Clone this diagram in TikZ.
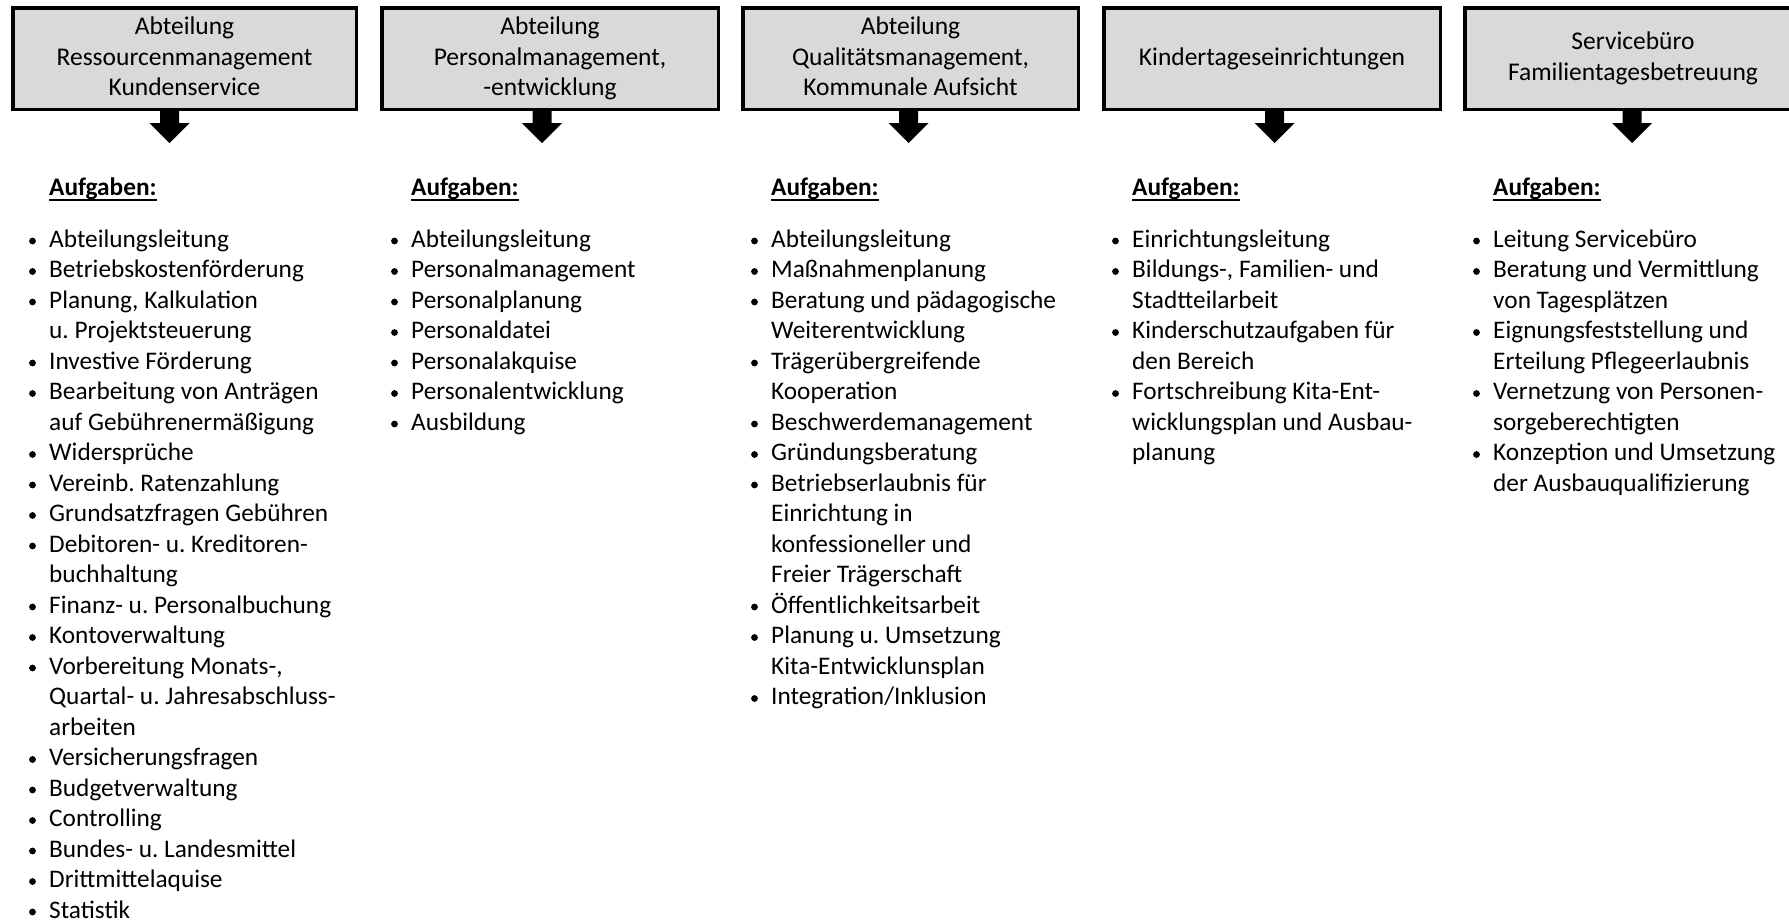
\documentclass[tikz,border=0pt]{standalone}
\usepackage{fontspec}
\setmainfont{Carlito}
\frenchspacing
\definecolor{boxgray}{HTML}{D9D9D9}
\newcommand\itm[4]{%
  \node[itm] (#1) at (#2,{247+30.5*#3}) {\begin{tabular}[t]{@{}l@{}}#4\end{tabular}};
  \fill ([xshift=-16.5pt,yshift=6pt]#1.base west) circle (3.4pt);}
\newcommand\blockarrow[2]{%
  \coordinate (#1) at (#2);
  \fill (#1) ++(-9.5,0) -- ++(19,0) -- ++(0,14) -- ++(10.5,0) -- ++(-20,20) -- ++(-20,-20) -- ++(10.5,0) -- cycle;}
\newcommand\aufg[2]{%
  \node[aufgstyle] (#1) at (#2,195) {Aufgaben:};
  \draw[line width=2pt] ([yshift=-5pt]#1.base west) -- ([yshift=-5pt]#1.base east);}
\begin{document}
\begin{tikzpicture}[x=1pt,y=-1pt,
  hdr/.style={draw=black, line width=3.5pt, fill=boxgray, minimum height=101.5pt,
    inner sep=0pt, align=center, font=\fontsize{25.5}{30.5}\selectfont},
  itm/.style={anchor=base west, inner sep=0pt, font=\fontsize{25.3}{30.5}\selectfont},
  aufgstyle/.style={anchor=base west, inner sep=0pt, font=\bfseries\fontsize{25.3}{30.5}\selectfont}]
\clip (0,0) rectangle (1789,922);
\fill[white] (0,0) rectangle (1789,922);

% header boxes
\node[hdr, minimum width=343.5pt] (b1) at (184.5,58.5) {Abteilung\\Ressourcenmanagement\\Kundenservice\vphantom{g}};
\node[hdr, minimum width=336.5pt] (b2) at (550,58.5) {Abteilung\\Personalmanagement,\\-entwicklung};
\node[hdr, minimum width=335.5pt] (b3) at (910.5,58.5) {Abteilung\\Qualitätsmanagement,\\Kommunale Aufsicht\vphantom{g}};
\node[hdr, minimum width=336.5pt] (b4) at (1272,58.5) {Kindertageseinrichtungen};
\node[hdr, minimum width=336.5pt] (b5) at (1633,58.5) {Servicebüro\\Familientagesbetreuung};

% block arrows
\blockarrow{a1}{169.5,109}
\blockarrow{a2}{542,109}
\blockarrow{a3}{908.5,109}
\blockarrow{a4}{1274.5,109}
\blockarrow{a5}{1632,109}

% headings
\aufg{h1}{49}
\aufg{h2}{411}
\aufg{h3}{771}
\aufg{h4}{1132}
\aufg{h5}{1493}

% column 1
\itm{c1a}{49}{0}{Abteilungsleitung}
\itm{c1b}{49}{1}{Betriebskostenförderung}
\itm{c1c}{49}{2}{Planung, Kalkulation\\u. Projektsteuerung}
\itm{c1d}{49}{4}{Investive Förderung}
\itm{c1e}{49}{5}{Bearbeitung von Anträgen\\auf Gebührenermäßigung}
\itm{c1f}{49}{7}{Widersprüche}
\itm{c1g}{49}{8}{Vereinb. Ratenzahlung}
\itm{c1h}{49}{9}{Grundsatzfragen Gebühren}
\itm{c1i}{49}{10}{Debitoren- u. Kreditoren-\\buchhaltung}
\itm{c1j}{49}{12}{Finanz- u. Personalbuchung}
\itm{c1k}{49}{13}{Kontoverwaltung}
\itm{c1l}{49}{14}{Vorbereitung Monats-,\\Quartal- u. Jahresabschluss-\\arbeiten}
\itm{c1m}{49}{17}{Versicherungsfragen}
\itm{c1n}{49}{18}{Budgetverwaltung}
\itm{c1o}{49}{19}{Controlling}
\itm{c1p}{49}{20}{Bundes- u. Landesmittel}
\itm{c1q}{49}{21}{Drittmittelaquise}
\itm{c1r}{49}{22}{Statistik}

% column 2
\itm{c2a}{411}{0}{Abteilungsleitung}
\itm{c2b}{411}{1}{Personalmanagement}
\itm{c2c}{411}{2}{Personalplanung}
\itm{c2d}{411}{3}{Personaldatei}
\itm{c2e}{411}{4}{Personalakquise}
\itm{c2f}{411}{5}{Personalentwicklung}
\itm{c2g}{411}{6}{Ausbildung}

% column 3
\itm{c3a}{771}{0}{Abteilungsleitung}
\itm{c3b}{771}{1}{Maßnahmenplanung}
\itm{c3c}{771}{2}{Beratung und pädagogische\\Weiterentwicklung}
\itm{c3d}{771}{4}{Trägerübergreifende\\Kooperation}
\itm{c3e}{771}{6}{Beschwerdemanagement}
\itm{c3f}{771}{7}{Gründungsberatung}
\itm{c3g}{771}{8}{Betriebserlaubnis für\\Einrichtung in\\konfessioneller und\\Freier Trägerschaft}
\itm{c3h}{771}{12}{Öffentlichkeitsarbeit}
\itm{c3i}{771}{13}{Planung u. Umsetzung\\Kita-Entwicklunsplan}
\itm{c3j}{771}{15}{Integration/Inklusion}

% column 4
\itm{c4a}{1132}{0}{Einrichtungsleitung}
\itm{c4b}{1132}{1}{Bildungs-, Familien- und\\Stadtteilarbeit}
\itm{c4c}{1132}{3}{Kinderschutzaufgaben für\\den Bereich}
\itm{c4d}{1132}{5}{Fortschreibung Kita-Ent-\\wicklungsplan und Ausbau-\\planung}

% column 5
\itm{c5a}{1493}{0}{Leitung Servicebüro}
\itm{c5b}{1493}{1}{Beratung und Vermittlung\\von Tagesplätzen}
\itm{c5c}{1493}{3}{Eignungsfeststellung und\\Erteilung Pflegeerlaubnis}
\itm{c5d}{1493}{5}{Vernetzung von Personen-\\sorgeberechtigten}
\itm{c5e}{1493}{7}{Konzeption und Umsetzung\\der Ausbauqualifizierung}
\end{tikzpicture}
\end{document}
